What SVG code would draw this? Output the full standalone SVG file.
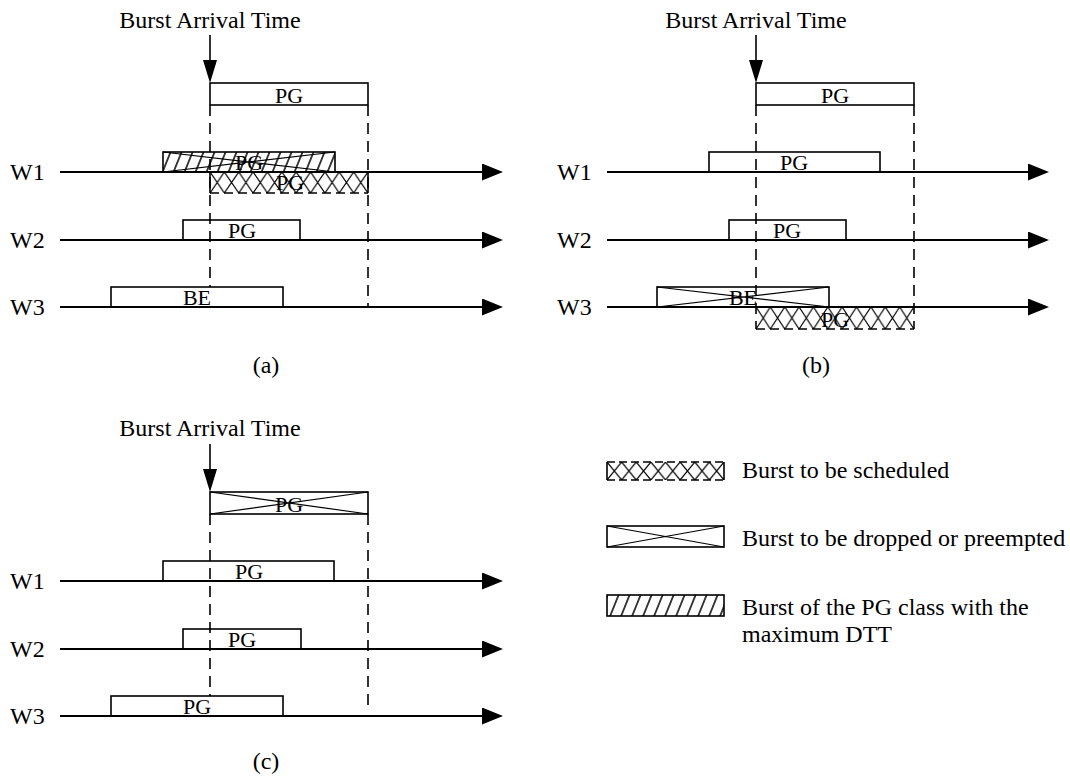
<svg xmlns="http://www.w3.org/2000/svg" width="1070" height="777" viewBox="0 0 1070 777">
<style>
.t{font-family:"Liberation Serif","Times New Roman",serif;font-size:24px;fill:#000}
.m{text-anchor:middle}
.pg{font-family:"Liberation Serif","Times New Roman",serif;font-size:22px;fill:#000;text-anchor:middle}
.box{fill:none;stroke:#000;stroke-width:1.6}
.x{stroke:#000;stroke-width:1.2;fill:none}
.axis{stroke:#000;stroke-width:2;fill:none;marker-end:url(#ah)}
.arr{stroke:#000;stroke-width:1.6;fill:none;marker-end:url(#dh)}
.dash{stroke:#000;stroke-width:1.6;stroke-dasharray:11 7;fill:none}
.edge{stroke:#000;stroke-width:1.6;fill:none}
</style>
<defs>
<marker id="ah" markerUnits="userSpaceOnUse" viewBox="0 0 21 17" markerWidth="21" markerHeight="17" refX="0" refY="8.5" orient="auto"><path d="M0,0 L21,8.5 L0,17 z" fill="#000"/></marker>
<marker id="dh" markerUnits="userSpaceOnUse" viewBox="0 0 23 14" markerWidth="23" markerHeight="14" refX="0" refY="7" orient="auto"><path d="M0,0 L23,7 L0,14 z" fill="#000"/></marker>
<pattern id="hatch" patternUnits="userSpaceOnUse" width="11" height="10" patternTransform="skewX(-22)"><line x1="1" y1="0" x2="1" y2="10" stroke="#000" stroke-width="1.6"/></pattern>
<pattern id="xa" patternUnits="userSpaceOnUse" x="210" y="172" width="14.364" height="21"><path d="M0,0 L14.364,21 M14.364,0 L0,21" stroke="#000" stroke-width="1.2"/></pattern>
<pattern id="xb" patternUnits="userSpaceOnUse" x="756" y="307" width="14.364" height="22"><path d="M0,0 L14.364,22 M14.364,0 L0,22" stroke="#000" stroke-width="1.2"/></pattern>
<pattern id="xl" patternUnits="userSpaceOnUse" x="607" y="462" width="14.625" height="18"><path d="M0,0 L14.625,18 M14.625,0 L0,18" stroke="#000" stroke-width="1.2"/></pattern>
</defs>

<g id="connectors">
<!-- panel a -->
<line class="arr" x1="210" y1="35" x2="210" y2="60"/>
<line class="axis" x1="60" y1="172" x2="482" y2="172"/>
<line class="axis" x1="60" y1="240" x2="482" y2="240"/>
<line class="axis" x1="60" y1="307" x2="482" y2="307"/>
<line class="dash" x1="210" y1="105" x2="210" y2="287"/>
<line class="dash" x1="368" y1="105" x2="368" y2="307"/>
<!-- panel b -->
<line class="arr" x1="756" y1="35" x2="756" y2="60"/>
<line class="axis" x1="607" y1="172" x2="1028" y2="172"/>
<line class="axis" x1="607" y1="240" x2="1028" y2="240"/>
<line class="axis" x1="607" y1="307" x2="1028" y2="307"/>
<line class="dash" x1="756" y1="105" x2="756" y2="329"/>
<line class="dash" x1="914" y1="105" x2="914" y2="329"/>
<!-- panel c -->
<line class="arr" x1="210" y1="444" x2="210" y2="469"/>
<line class="axis" x1="60" y1="581" x2="482" y2="581"/>
<line class="axis" x1="60" y1="649" x2="482" y2="649"/>
<line class="axis" x1="60" y1="716" x2="482" y2="716"/>
<line class="dash" x1="210" y1="514" x2="210" y2="696"/>
<line class="dash" x1="368" y1="514" x2="368" y2="712"/>
</g>

<g id="panel-a-labels">
<text class="t m" x="210" y="28">Burst Arrival Time</text>
<text class="t" x="10" y="180">W1</text>
<text class="t" x="10" y="248">W2</text>
<text class="t" x="10" y="315">W3</text>
<text class="t m" x="266" y="373">(a)</text>
</g>
<g id="a-top-pg">
<rect class="box" x="210" y="83" width="158" height="22"/>
<text class="pg" x="289" y="103">PG</text>
</g>
<g id="a-w1-hatched">
<rect x="163" y="152" width="172" height="20" fill="url(#hatch)" stroke="#000" stroke-width="1.6"/>
<path class="x" d="M163,152 L335,172 M163,172 L335,152"/>
<text class="pg" x="249" y="170">PG</text>
</g>
<g id="a-w1-sched">
<rect x="210" y="172" width="158" height="21" fill="url(#xa)"/>
<path class="edge" d="M210,172 V193 M368,172 V193"/>
<line class="dash" x1="210" y1="193" x2="368" y2="193" style="stroke-dasharray:9 5"/>
<text class="pg" x="290" y="190">PG</text>
</g>
<g id="a-w2-pg">
<rect class="box" x="183" y="220" width="117" height="20"/>
<text class="pg" x="242" y="238">PG</text>
</g>
<g id="a-w3-be">
<rect class="box" x="111" y="287" width="172" height="20"/>
<text class="pg" x="197" y="305">BE</text>
</g>

<g id="panel-b-labels">
<text class="t m" x="756" y="28">Burst Arrival Time</text>
<text class="t" x="557" y="180">W1</text>
<text class="t" x="557" y="248">W2</text>
<text class="t" x="557" y="315">W3</text>
<text class="t m" x="816" y="373">(b)</text>
</g>
<g id="b-top-pg">
<rect class="box" x="756" y="83" width="158" height="22"/>
<text class="pg" x="835" y="103">PG</text>
</g>
<g id="b-w1-pg">
<rect class="box" x="709" y="152" width="171" height="20"/>
<text class="pg" x="794" y="170">PG</text>
</g>
<g id="b-w2-pg">
<rect class="box" x="729" y="220" width="117" height="20"/>
<text class="pg" x="787" y="238">PG</text>
</g>
<g id="b-w3-be-dropped">
<rect class="box" x="657" y="287" width="172" height="20"/>
<path class="x" d="M657,287 L829,307 M657,307 L829,287"/>
<text class="pg" x="743" y="305">BE</text>
</g>
<g id="b-w3-sched">
<rect x="756" y="307" width="158" height="22" fill="url(#xb)"/>
<line class="dash" x1="756" y1="329" x2="914" y2="329" style="stroke-dasharray:9 5"/>
<text class="pg" x="835" y="327">PG</text>
</g>

<g id="panel-c-labels">
<text class="t m" x="210" y="436">Burst Arrival Time</text>
<text class="t" x="10" y="589">W1</text>
<text class="t" x="10" y="657">W2</text>
<text class="t" x="10" y="724">W3</text>
<text class="t m" x="266" y="769">(c)</text>
</g>
<g id="c-top-pg-dropped">
<rect class="box" x="210" y="492" width="158" height="22"/>
<path class="x" d="M210,492 L368,514 M210,514 L368,492"/>
<text class="pg" x="289" y="512">PG</text>
</g>
<g id="c-w1-pg">
<rect class="box" x="163" y="561" width="171" height="20"/>
<text class="pg" x="249" y="579">PG</text>
</g>
<g id="c-w2-pg">
<rect class="box" x="183" y="629" width="118" height="20"/>
<text class="pg" x="242" y="647">PG</text>
</g>
<g id="c-w3-pg">
<rect class="box" x="111" y="696" width="172" height="20"/>
<text class="pg" x="197" y="714">PG</text>
</g>

<g id="legend-scheduled">
<rect x="607" y="462" width="117" height="18" fill="url(#xl)"/>
<path class="edge" d="M607,462 V480 M724,462 V480"/>
<path class="edge" d="M607,462 H724 M607,480 H724" style="stroke-dasharray:8 4"/>
<text class="t" x="742" y="478">Burst to be scheduled</text>
</g>
<g id="legend-dropped">
<rect class="box" x="607" y="526" width="117" height="21"/>
<path class="x" d="M607,526 L724,547 M607,547 L724,526"/>
<text class="t" x="742" y="546">Burst to be dropped or preempted</text>
</g>
<g id="legend-hatched">
<rect x="607" y="595" width="117" height="21" fill="url(#hatch)" stroke="#000" stroke-width="1.6"/>
<text class="t" x="742" y="615">Burst of the PG class with the</text>
<text class="t" x="742" y="642">maximum DTT</text>
</g>
</svg>
